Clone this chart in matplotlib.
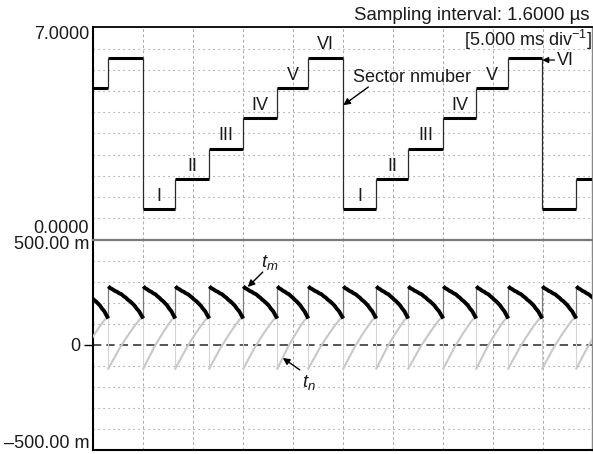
import numpy as np
import matplotlib.pyplot as plt

plt.rcParams['font.family'] = ['Liberation Sans', 'DejaVu Sans']
plt.rcParams['mathtext.fontset'] = 'custom'
plt.rcParams['mathtext.rm'] = 'Liberation Sans'
plt.rcParams['mathtext.it'] = 'Liberation Sans:italic'

# sector switching instants (ms) and the sector held in each interval
edges = [-1.8, 1.5, 5.0, 8.2, 11.6, 15.0, 18.4, 21.5, 25.0, 28.3, 31.5,
         35.0, 38.3, 41.5, 44.9, 48.3, 51.6]
sector = [5, 6, 1, 2, 3, 4, 5, 6, 1, 2, 3, 4, 5, 6, 1, 2]
roman = ['I', 'II', 'III', 'IV', 'V', 'VI']

# duty times inside one sector (V), sampled over the sector
frac = [0.0, 0.06, 0.12, 0.19, 0.25, 0.31, 0.38, 0.44, 0.50, 0.56, 0.62,
        0.69, 0.75, 0.81, 0.88, 0.94, 1.0]
tm = [0.277, 0.268, 0.263, 0.255, 0.251, 0.244, 0.239, 0.230, 0.223, 0.213,
      0.206, 0.195, 0.185, 0.171, 0.158, 0.140, 0.124]
tn = [-0.115, -0.097, -0.079, -0.058, -0.040, -0.022, -0.003, 0.012, 0.028,
      0.043, 0.058, 0.074, 0.088, 0.101, 0.116, 0.126, 0.135]

# axis labels: (value, text, vertical offset in points)
top_labels = [(7, '7.0000', 1.0, 'top'), (0, '0.0000', 7.6, 'center')]
bot_labels = [(0.5, '500.00 m', -3.9, 'center'),
              (-0.5, '\u2013500.00 m', 4.0, 'center')]

W, H = 593, 454
fig = plt.figure(figsize=(W / 100, H / 100), dpi=100)
x0, x1 = 93.3, 592
ax1 = fig.add_axes([x0 / W, 1 - 239.5 / H, (x1 - x0) / W, (239.5 - 27.3) / H])
ax2 = fig.add_axes([x0 / W, 1 - 449.5 / H, (x1 - x0) / W, (449.5 - 239.5) / H])
tmax = (x1 - x0) / 10.0

txt = '#1a1a1a'
fs = 13
for ax in (ax1, ax2):
    ax.set_xlim(0, tmax)
    ax.set_xticks([])
    ax.set_yticks([])
    for t in range(5, 50, 5):
        ax.axvline(t, color='#ababab', lw=0.7, ls=(0, (3, 2.5)), zorder=1)
    ax.spines['left'].set_linewidth(1.5)
    ax.spines['right'].set_color('#888888')
    ax.spines['right'].set_linewidth(1.0)

# ---- sector number trace
ax1.set_ylim(0, 7)
for k in range(1, 10):
    ax1.axhline(0.7 * k, color='#8c8c8c', lw=0.8, ls=(0, (1, 3.5)), zorder=1)
ax1.spines['top'].set_linewidth(1.3)
ax1.spines['bottom'].set_visible(False)
ax1.hlines(sector, edges[:-1], edges[1:], color='k', lw=2.2, zorder=3)
ax1.vlines(edges[1:-1], sector[:-1], sector[1:], color='#2a2a2a', lw=0.9, zorder=3)

for v, s, dy, va in top_labels:
    ax1.annotate(s, xy=(0, v), xycoords=('axes fraction', 'data'),
                 xytext=(-3, dy), textcoords='offset points',
                 ha='right', va=va, fontsize=fs, color=txt,
                 annotation_clip=False)

for i in range(2, 13):
    mid = (edges[i] + edges[i + 1]) / 2
    ax1.text(mid, sector[i] + 0.42, roman[sector[i] - 1], ha='center',
             va='center', fontsize=fs, color=txt, zorder=4)

ax1.annotate('VI', xy=(44.9, 5.92), xytext=(46.4, 5.92), fontsize=fs,
             color=txt, va='center', ha='left',
             arrowprops=dict(arrowstyle='-|>', color='k', lw=0.9,
                             mutation_scale=9, shrinkA=0, shrinkB=0))
ax1.text(26.0, 5.33, 'Sector nmuber', fontsize=fs, color=txt,
         ha='left', va='center', zorder=4)
ax1.annotate('', xy=(25.0, 4.43), xytext=(27.5, 5.03),
             arrowprops=dict(arrowstyle='-|>', color='k', lw=1.0,
                             mutation_scale=10, shrinkA=0, shrinkB=0))
ax1.text(tmax - 0.05, 6.97, '[5.000 ms div$^{-1}$]', fontsize=fs,
         color=txt, ha='right', va='top', zorder=4)
fig.text(590 / W, 1 - 20.5 / H, 'Sampling interval: 1.6000 \u00b5s',
         fontsize=13.4, color=txt, ha='right', va='baseline')

# ---- duty time traces
ax2.set_ylim(-0.5, 0.5)
for k in (-4, -3, -2, -1, 1, 2, 3, 4):
    ax2.axhline(0.1 * k, color='#8c8c8c', lw=0.8, ls=(0, (1, 3.5)), zorder=1)
ax2.axhline(0, color='#3a3a3a', lw=1.2, ls=(0, (5, 3)), zorder=2)
ax2.spines['top'].set_color('#7a7a7a')
ax2.spines['top'].set_linewidth(1.6)
ax2.spines['bottom'].set_linewidth(1.5)

f = np.array(frac)
for a, b in zip(edges[:-1], edges[1:]):
    t = a + f * (b - a)
    ax2.plot(t, tn, color='#c8c8c8', lw=1.5, zorder=3)
    ax2.plot(t, tm, color='k', lw=2.8, zorder=4, solid_capstyle='butt')
ax2.vlines(edges[1:-1], tm[-1], tm[0], color='#7a7a7a', lw=0.9, zorder=3)
ax2.vlines(edges[1:-1], tn[0], tn[-1], color='#d4d4d4', lw=0.8, zorder=2)

for v, s, dy, va in bot_labels:
    ax2.annotate(s, xy=(0, v), xycoords=('axes fraction', 'data'),
                 xytext=(-3, dy), textcoords='offset points',
                 ha='right', va=va, fontsize=fs, color=txt,
                 annotation_clip=False)
ax2.set_yticks([0])
ax2.set_yticklabels(['0'])
ax2.tick_params(axis='y', length=6.5, width=1.0, labelsize=fs,
                labelcolor=txt, pad=3)

ax2.text(17.6, 0.39, '$t_m$', fontsize=13.5, color=txt, ha='center', va='center')
ax2.annotate('', xy=(15.45, 0.274), xytext=(16.95, 0.345),
             arrowprops=dict(arrowstyle='-|>', color='k', lw=1.0,
                             mutation_scale=10, shrinkA=0, shrinkB=0))
ax2.text(21.6, -0.183, '$t_n$', fontsize=13.5, color=txt, ha='center', va='center')
ax2.annotate('', xy=(18.95, -0.064), xytext=(20.65, -0.121),
             arrowprops=dict(arrowstyle='-|>', color='k', lw=1.0,
                             mutation_scale=10, shrinkA=0, shrinkB=0))

fig.savefig('out.png', dpi=100)
